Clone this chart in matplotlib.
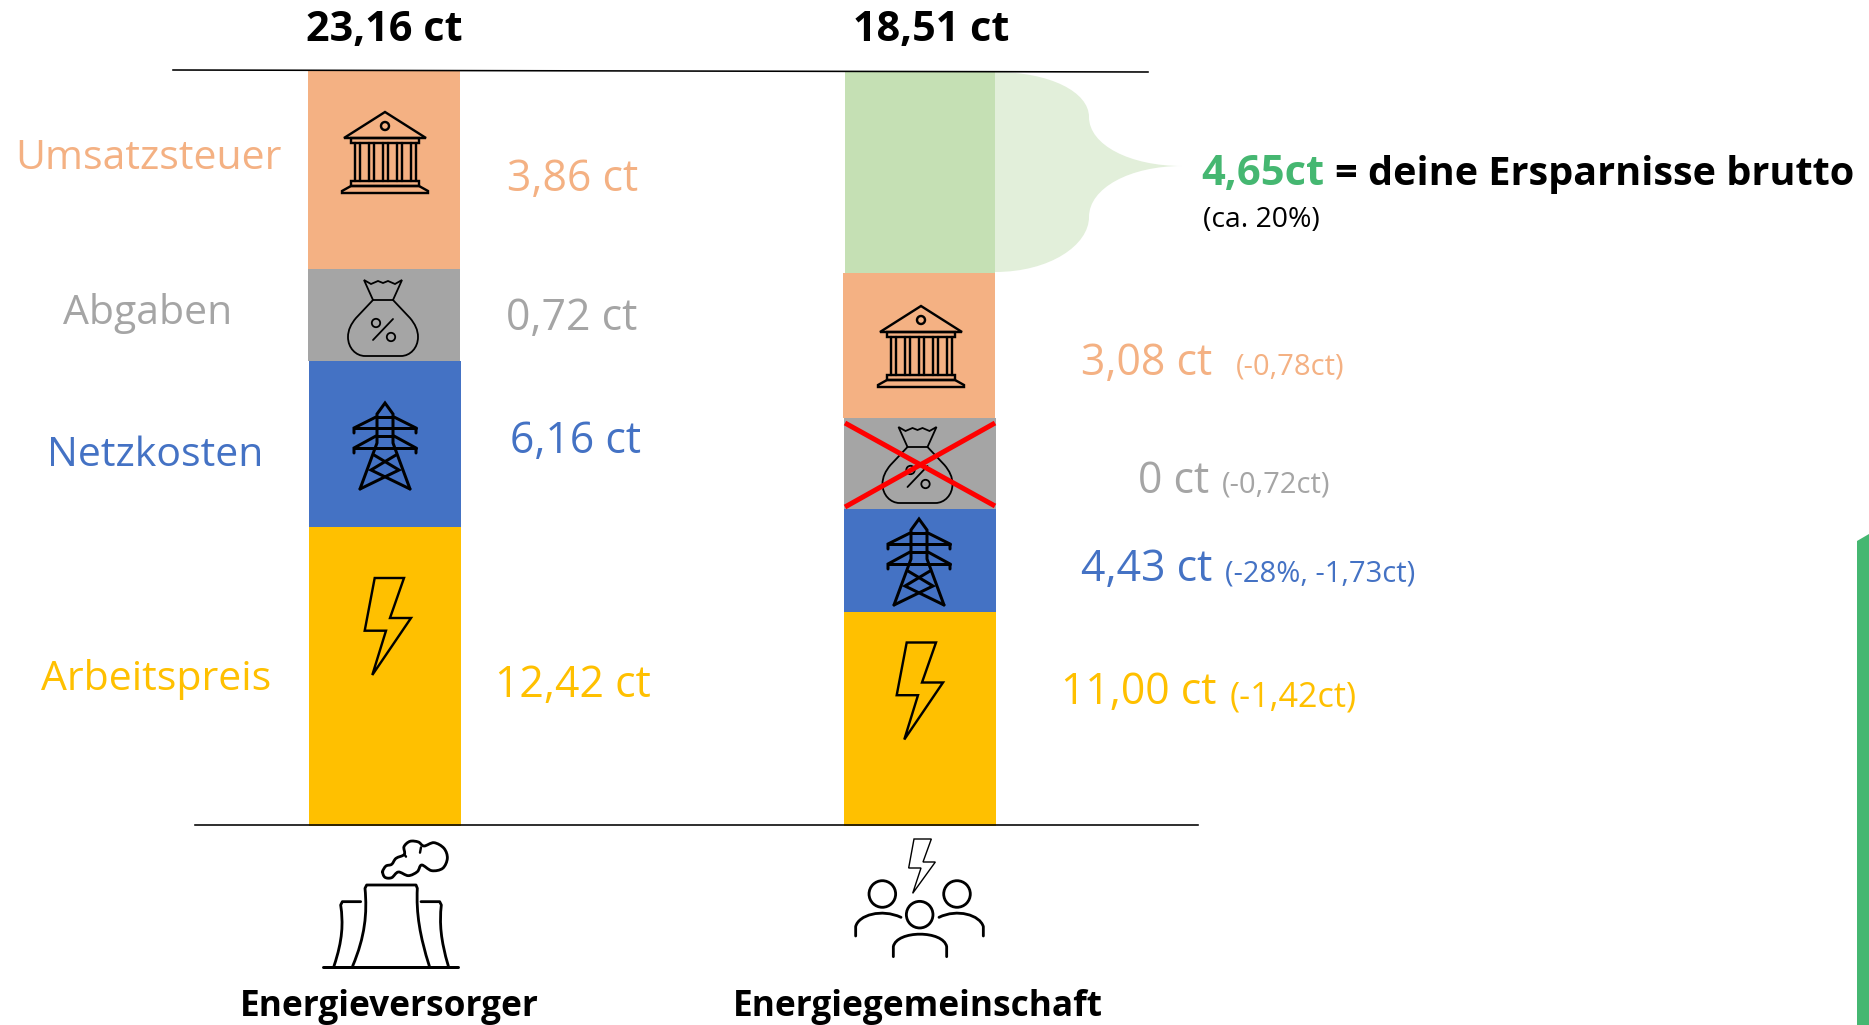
import matplotlib
matplotlib.use("Agg")
import matplotlib.pyplot as plt
from matplotlib.patches import PathPatch, Polygon, Circle
from matplotlib.path import Path

plt.rcParams["font.family"] = ["Open Sans", "DejaVu Sans"]

# Segment heights as drawn in the picture (the slide is not to scale with its labels),
# expressed so that a full column is about 23,16 ct. Bottom to top.
segments = ["Arbeitspreis", "Netzkosten", "Abgaben", "Umsatzsteuer"]
versorger_heights = [9.17, 5.09, 2.82, 6.07]
gemeinschaft_heights = [6.56, 3.16, 2.79, 4.45]
ersparnis_height = 6.17

versorger_labels = ["12,42 ct", "6,16 ct", "0,72 ct", "3,86 ct"]
gemeinschaft_labels = ["11,00 ct", "4,43 ct", "0 ct", "3,08 ct"]
gemeinschaft_deltas = ["(-1,42ct)", "(-28%, -1,73ct)", "(-0,72ct)", "(-0,78ct)"]
totals = ["23,16 ct", "18,51 ct"]
columns = ["Energieversorger", "Energiegemeinschaft"]

COLORS = {"Arbeitspreis": "#FFC000", "Netzkosten": "#4472C4", "Abgaben": "#A5A5A5", "Umsatzsteuer": "#F4B183"}
GREEN_BAR = "#C5E0B4"
GREEN_BRACE = "#E2EFDA"
GREEN = "#45B771"

W, H = 1869, 1025
BASE_Y = 826
PX_PER_CT = 32.6
BAR_W = 152

fig = plt.figure(figsize=(W / 100, H / 100), dpi=100)
ax = fig.add_axes([0, 0, 1, 1])
ax.set_xlim(0, W)
ax.set_ylim(-(H - BASE_Y) / PX_PER_CT, BASE_Y / PX_PER_CT)
ax.axis("off")

# overlay in picture pixels for text and icons
ov = fig.add_axes([0, 0, 1, 1])
ov.set_xlim(0, W)
ov.set_ylim(H, 0)
ov.axis("off")
ov.patch.set_alpha(0)


def lw(px):
    return px * 0.72


# bars
bar_x = [384.5, 920]
bar_shift = [[0.5, 0.5, -0.5, -0.5], [0, 0, 0, -1]]
for i, heights in enumerate([versorger_heights, gemeinschaft_heights]):
    bottom = 0
    for name, h, dx in zip(segments, heights, bar_shift[i]):
        ax.bar(bar_x[i] + dx, h, width=BAR_W, bottom=bottom, color=COLORS[name])
        bottom += h
ax.bar(bar_x[1], ersparnis_height, width=BAR_W - 2, bottom=sum(gemeinschaft_heights), color=GREEN_BAR)

# axis lines
ov.plot([173, 1148], [70, 72], color="black", lw=lw(1.6))
ov.plot([195, 1198], [825, 825], color="black", lw=lw(1.6))

# brace
brace = Path(
    [(995, 72), (1050, 72), (1089, 92), (1089, 117), (1089, 145), (1130, 166), (1182, 166),
     (1130, 166), (1089, 188), (1089, 217), (1089, 245), (1050, 272), (995, 272), (995, 72)],
    [Path.MOVETO] + [Path.CURVE4] * 12 + [Path.CLOSEPOLY],
)
ov.add_patch(PathPatch(brace, fc=GREEN_BRACE, ec="none"))

# green strip cut off at the right edge
ov.add_patch(Polygon([(1857, 541), (1869, 534), (1869, 1025), (1857, 1025)], fc=GREEN, ec="none"))


def stroke(points, width=2.0, closed=False, color="black"):
    ov.add_patch(Polygon(points, closed=closed, fill=False, ec=color, lw=lw(width), joinstyle="miter", capstyle="round"))


def bezier(verts, codes, width):
    ov.add_patch(PathPatch(Path(verts, codes), fill=False, ec="black", lw=lw(width), capstyle="round", joinstyle="round"))


def smooth(points, width=2.0):
    # closed Catmull-Rom line through the given points
    n = len(points)
    verts = [points[0]]
    codes = [Path.MOVETO]
    for i in range(n):
        p0, p1, p2, p3 = points[i - 1], points[i], points[(i + 1) % n], points[(i + 2) % n]
        c1 = (p1[0] + (p2[0] - p0[0]) / 6, p1[1] + (p2[1] - p0[1]) / 6)
        c2 = (p2[0] - (p3[0] - p1[0]) / 6, p2[1] - (p3[1] - p1[1]) / 6)
        verts += [c1, c2, p2]
        codes += [Path.CURVE4] * 3
    bezier(verts, codes, width)


def bank(cx, top):
    def p(dx, dy):
        return (cx + dx, top + dy)
    w = 2.4
    stroke([p(0, 0), p(41, 26), p(-41, 26)], w, True)
    ov.add_patch(Circle(p(0, 14), 4, fill=False, ec="black", lw=lw(w)))
    stroke([p(-34, 26), p(34, 26), p(34, 31), p(-34, 31)], w, True)
    for dx in [-28, -14, 0, 14, 28]:
        stroke([p(dx - 2.5, 31), p(dx - 2.5, 69)], w)
        stroke([p(dx + 2.5, 31), p(dx + 2.5, 69)], w)
    stroke([p(-34, 69), p(34, 69), p(34, 74), p(-34, 74)], w, True)
    stroke([p(-34, 74), p(-43, 79), p(-43, 81), p(43, 81), p(43, 79), p(34, 74)], w, True)


def bag(cx, top):
    def p(dx, dy):
        return (cx + dx, top + dy)
    w = 1.8
    stroke([p(-10, 20), p(-19, 0), p(-12, 4), p(-5, 1), p(0, 3), p(5, 1), p(12, 4), p(19, 0), p(10, 20)], w, True)
    verts = [p(-10, 20), p(-27, 38), p(-32, 44), p(-35, 50), p(-35, 57), p(-35, 68), p(-27, 76), p(-18, 76),
             p(18, 76), p(27, 76), p(35, 68), p(35, 57), p(35, 50), p(32, 44), p(27, 38), p(10, 20)]
    codes = [Path.MOVETO, Path.LINETO] + [Path.CURVE4] * 6 + [Path.LINETO] + [Path.CURVE4] * 6 + [Path.LINETO]
    bezier(verts, codes, w)
    ov.add_patch(Circle(p(-7, 43), 4.2, fill=False, ec="black", lw=lw(w)))
    ov.add_patch(Circle(p(8, 57), 4.2, fill=False, ec="black", lw=lw(w)))
    stroke([p(10, 39), p(-10, 60)], w)


def tower(cx, top):
    def p(dx, dy):
        return (cx + dx, top + dy)
    w = 3.0
    stroke([p(-25, 86), p(-8, 40), p(-8, 11), p(0, 0), p(8, 11), p(8, 40), p(25, 86)], w)
    stroke([p(-9, 14), p(-31, 25), p(-31, 30)], w)
    stroke([p(9, 14), p(31, 25), p(31, 30)], w)
    stroke([p(-31, 25), p(31, 25)], w)
    stroke([p(-9, 33), p(-31, 45), p(-31, 50)], w)
    stroke([p(9, 33), p(31, 45), p(31, 50)], w)
    stroke([p(-31, 45), p(31, 45)], w)
    stroke([p(-8, 14), p(8, 14)], w)
    stroke([p(-8, 33), p(8, 33)], w)
    stroke([p(-11, 52), p(14, 67), p(-25, 86)], w)
    stroke([p(11, 52), p(-14, 67), p(25, 86)], w)


def bolt(dx=0, dy=0):
    pts = [(374.7, 578), (404, 578), (390, 618), (411, 618), (372.3, 675), (386, 630.7), (364.7, 630.7)]
    stroke([(x + dx, y + dy) for x, y in pts], 2.4, True)


bank(385, 112)
bank(921, 306)
bag(383, 280)
bag(917.5, 427)
tower(385, 403)
tower(919, 519)
bolt()
bolt(532, 64.5)

# red cross over the Abgaben icon
ov.plot([845, 995], [423, 506], color="#FF0000", lw=lw(5), solid_capstyle="butt")
ov.plot([845, 995], [507, 423], color="#FF0000", lw=lw(5), solid_capstyle="butt")


# power plant icon
def zp(X, Y):
    return (310 + X / 3, 830 + Y / 3)


C4 = Path.CURVE4
L = Path.LINETO
M = Path.MOVETO
stroke([zp(40, 410), zp(445, 410)], 3)
bezier([zp(*q) for q in [(128, 408), (165, 320), (172, 250), (165, 175), (170, 165), (318, 165), (322, 175),
                         (318, 250), (330, 320), (358, 408)]],
       [M, C4, C4, C4, L, L, L, C4, C4, C4], 2.8)
bezier([zp(*q) for q in [(72, 408), (98, 330), (100, 280), (92, 225), (97, 215), (152, 215)]],
       [M, C4, C4, C4, L, L], 2.8)
bezier([zp(*q) for q in [(415, 408), (392, 330), (388, 280), (394, 225), (389, 215), (333, 215)]],
       [M, C4, C4, C4, L, L], 2.8)
smooth([zp(*q) for q in [(218, 125), (228, 108), (245, 103), (258, 85), (283, 73), (282, 50), (300, 34), (325, 36),
                         (342, 48), (372, 38), (402, 55), (412, 85), (398, 115), (365, 122), (335, 105), (322, 125),
                         (295, 137), (265, 126), (245, 143), (225, 142)]], 2.8)
stroke([zp(283, 73), zp(288, 80)], 2.4)
stroke([zp(333, 52), zp(330, 68)], 2.4)


# community icon
def zc(X, Y):
    return (845 + X / 3, 830 + Y / 3)


for q in [(112, 192), (336, 192), (224, 254)]:
    ov.add_patch(Circle(zc(*q), 13.3, fill=False, ec="black", lw=lw(2.8)))
bezier([zc(*q) for q in [(32, 318), (32, 290), (40, 255), (110, 235), (168, 262)]], [M, L, C4, C4, C4], 2.8)
bezier([zc(*q) for q in [(415, 318), (415, 290), (405, 255), (337, 235), (282, 262)]], [M, L, C4, C4, C4], 2.8)
bezier([zc(*q) for q in [(145, 380), (145, 350), (155, 300), (295, 300), (305, 350), (305, 380)]], [M, L, C4, C4, C4, L], 2.8)
stroke([zc(*q) for q in [(207, 27), (259, 27), (234, 96), (271, 96), (203, 190), (228, 114), (191, 114)]], 1.4, True)

# text
NAME = 29.5
VALUE = 30.8
DELTA = 21
BOLD = 28.5

for x, t in zip([384, 931], totals):
    ov.text(x, 30, t, ha="center", va="center", fontsize=29.8, fontweight="bold", color="black")
for x, t in zip([389, 918], columns):
    ov.text(x, 1007, t, ha="center", va="center", fontsize=25.4, fontweight="bold", color="black")

name_pos = {"Umsatzsteuer": (148, 159), "Abgaben": (148, 314), "Netzkosten": (155, 456), "Arbeitspreis": (156, 680)}
for name in segments:
    ov.text(*name_pos[name], name, ha="center", va="center", fontsize=NAME, color=COLORS[name])

left_label_pos = [(573, 686), (576, 442), (572, 319), (573, 180)]
for (x, y), t, name in zip(left_label_pos, versorger_labels, segments):
    ov.text(x, y, t, ha="center", va="center", fontsize=VALUE, color=COLORS[name])

right_label_pos = [(1061, 693), (1081, 570), (1138, 482), (1081, 364)]
right_delta_pos = [(1230, 697), (1225, 574), (1222, 485), (1236, 367)]
delta_size = [24.6, DELTA, DELTA, DELTA]
for (x, y), (dx, dy), t, d, s, name in zip(right_label_pos, right_delta_pos, gemeinschaft_labels, gemeinschaft_deltas, delta_size, segments):
    ov.text(x, y, t, ha="left", va="center", fontsize=VALUE, color=COLORS[name])
    ov.text(dx, dy, d, ha="left", va="center", fontsize=s, color=COLORS[name])

ov.text(1201, 175, "4,65ct", ha="left", va="center", fontsize=30, fontweight="bold", color=GREEN)
ov.text(1335, 175, "= deine Ersparnisse brutto", ha="left", va="center", fontsize=BOLD, fontweight="bold", color="black")
ov.text(1203, 220, "(ca. 20%)", ha="left", va="center", fontsize=20.4, color="black")

fig.savefig("out.png", dpi=100)
